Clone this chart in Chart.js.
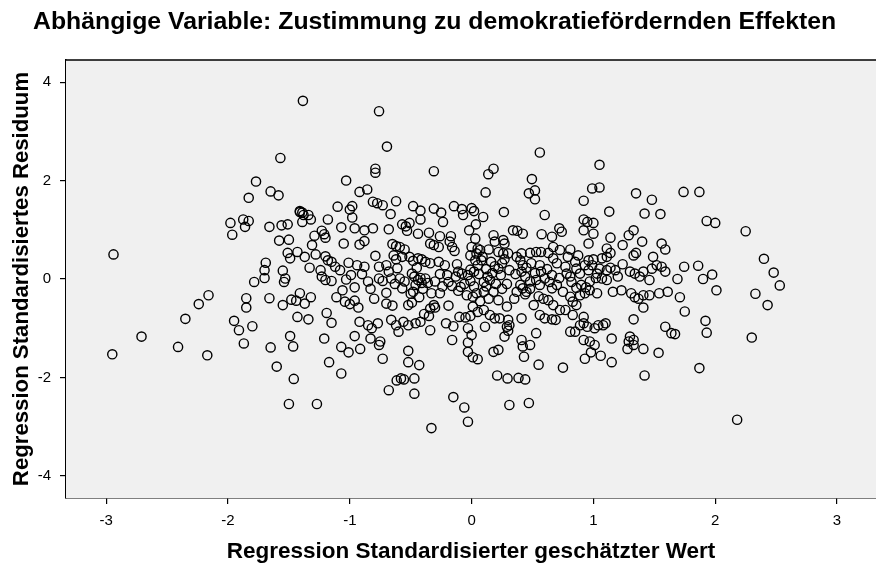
<!DOCTYPE html>
<html>
<head>
<meta charset="utf-8">
<script src="https://cdn.jsdelivr.net/npm/chart.js@4.4.1/dist/chart.umd.min.js"></script>
<style>
  html, body { margin: 0; padding: 0; background: #fff; }
</style>
</head>
<body>
<canvas id="residual-chart" width="876" height="569"></canvas>
<script>
// Abhängige Variable: Zustimmung zu demokratiefördernden Effekten
const chartTitle = 'Abhängige Variable: Zustimmung zu demokratiefördernden Effekten';
const xTitle = 'Regression Standardisierter geschätzter Wert';
const yTitle = 'Regression Standardisiertes Residuum';

const xTickValues = [-3, -2, -1, 0, 1, 2, 3];
const yTickValues = [-4, -2, 0, 2, 4];

// standardisierte geschätzte Werte (x)
const predictedValues = [
  // links, locker
  -2.95,-2.94,-2.71,-2.41,-2.35,-2.24,-2.17,-2.16,-1.98,-1.965,
  -1.875,-1.83,-1.86,-1.66,-1.785,-1.85,-1.85,-1.95,-1.91,-1.80,
  -1.87,-1.69,-1.70,-1.70,-1.66,-1.65,-1.77,-1.83,-1.65,-1.585,
  // oben links
  -1.385,-0.76,-0.695,-1.57,-0.79,-0.79,-0.31,-1.03,-0.92,-0.857,
  -1.41,-1.39,-1.10,-0.98,-1.0,-0.81,-0.775,-0.73,-0.62,-0.665,
  -0.48,-0.42,-0.31,-0.25,-0.145,-0.08,0.0,-1.34,
  // oben rechts
  0.56,1.05,0.18,0.137,0.495,0.115,0.47,0.52,0.52,0.99,
  1.05,0.92,1.35,1.48,1.74,1.87,0.02,0.095,0.265,0.6,
  1.13,1.42,1.55,
  // rechts
  1.93,2.0,2.25,2.40,2.48,2.53,2.33,2.43,2.30,1.745,
  1.86,1.69,1.90,1.975,2.01,1.71,1.75,1.92,1.93,1.67,
  1.87,2.18,
  // unten rechts
  -0.03,0.01,0.05,0.18,0.22,0.42,0.48,0.43,0.55,0.75,
  0.21,0.295,0.385,0.44,0.31,0.47,-0.03,0.93,0.98,1.01,
  1.06,1.15,1.28,1.33,1.41,1.535,1.42,
  // unten links
  -1.465,-1.60,-1.46,-1.50,-1.27,-1.17,-1.07,-1.01,-0.915,-1.07,
  -0.76,-0.73,-0.52,-0.52,-0.43,-0.615,-0.58,-0.556,-0.47,-0.68,
  -0.47,-0.15,-0.06,-0.33,
  // Mitte links
  -1.41,-1.38,-1.32,-1.18,-0.98,-0.42,-0.235,-0.07,-1.56,-1.51,
  -1.39,-1.23,-1.21,-1.20,-1.07,-0.96,-0.88,-0.81,-0.68,-0.57,
  -0.54,-0.51,-0.53,-0.44,-0.35,-0.26,-0.17,-0.02,-1.58,-1.50,
  -1.29,-1.31,-1.05,-0.92,-0.88,-0.65,-0.62,-0.59,-0.55,-0.34,
  -0.31,-0.27,-0.18,-0.16,-0.14,0.0,-1.51,-1.49,-1.43,-1.37,
  -1.28,-1.20,-1.18,-1.15,-1.01,-0.94,-0.88,-0.79,-0.76,-0.70,
  -0.64,-0.62,-0.57,-0.51,-0.48,-0.44,-0.41,-0.38,-0.34,-0.27,
  -0.22,-0.11,-0.08,-0.01,-1.55,-1.53,-1.54,-1.33,-1.24,-1.23,
  -1.20,-1.15,-1.08,-1.03,-0.99,-0.96,-0.83,-0.76,-0.73,-0.68,
  -0.66,-0.63,-0.59,-0.57,-0.49,-0.47,-0.44,-0.42,-0.41,-0.38,
  -0.36,-0.20,-0.19,-0.16,-0.11,-0.09,-0.03,-0.01,-1.55,-1.48,
  -1.44,-1.41,-1.37,-1.32,-1.11,-1.06,-1.04,-1.00,-0.96,-0.93,
  -0.70,-0.70,-0.65,-0.52,-0.49,-0.48,-0.43,-0.34,-0.31,-0.30,
  -0.33,-0.26,-0.19,-0.04,-1.43,-1.34,-1.19,-1.15,-0.92,-0.85,
  -0.82,-0.77,-0.66,-0.62,-0.56,-0.52,-0.46,-0.42,-0.39,-0.35,
  -0.34,-0.21,-0.15,-0.10,-0.05,-0.01,-0.03,0.00,-1.49,-1.21,
  -0.96,-0.83,-0.75,-0.60,-0.16,-0.03,
  // Mitte rechts
  0.035,0.92,0.95,1.00,0.92,1.0,0.18,0.19,0.26,0.27,
  0.34,0.375,0.42,0.575,0.66,0.72,0.74,0.96,1.14,1.11,
  1.14,1.24,1.29,1.33,1.40,1.56,1.59,0.03,0.07,0.04,
  0.22,0.26,0.30,0.37,0.41,0.48,0.53,0.57,0.63,0.67,
  0.725,0.81,0.79,0.875,0.96,1.0,1.07,1.11,1.33,1.35,
  1.49,1.52,-0.01,0.03,0.05,0.08,0.16,0.19,0.22,0.25,
  0.31,0.40,0.42,0.45,0.41,0.49,0.56,0.57,0.60,0.64,
  0.67,0.70,0.77,0.78,0.81,0.82,0.86,0.89,0.93,0.96,
  1.03,1.05,1.11,1.14,1.18,1.07,1.11,1.30,1.34,1.38,
  1.41,1.46,1.48,1.56,1.59,0.10,0.15,0.29,0.40,0.42,
  0.45,0.53,0.56,0.66,0.70,0.75,0.90,0.94,0.97,0.93,
  0.89,1.16,1.23,1.31,1.34,1.37,1.41,1.46,1.54,1.61,
  0.01,0.04,0.10,0.14,0.18,0.22,0.29,0.37,0.44,0.51,
  0.59,0.63,0.67,0.725,0.77,0.81,0.83,0.86,1.03,1.41,
  0.01,0.05,0.10,0.15,0.19,0.23,0.30,0.31,0.41,0.56,
  0.60,0.66,0.69,0.83,0.92,1.33,0.11,0.29,0.30,0.27,
  0.53,0.81,0.85,0.89,0.92,0.95,1.01,1.04,1.08,1.10,
  0.92,0.97,1.15,0.41,1.30,1.33,1.29,1.59,1.64,
  // dichter Kern (überlappende Kreise)
  0.02,0.06,0.12,0.09,0.13,0.17,0.24,0.27,0.02,0.07,
  0.12,0.20,0.25,0.05,0.14,0.36,0.44,0.48,0.52,0.62,
  0.66,0.35,0.48,0.55,0.85,0.99,1.02,0.97,0.86,1.20,
  1.24,0.72,-0.55,-0.46,-0.50,-0.40,-0.30,-0.26,-0.13,-0.06,
  -0.24,-0.61,-0.45,-0.12,-0.90,-0.85,-1.12,-0.80
];

// standardisierte Residuen (y)
const residualValues = [
  // links, locker
  -1.53,0.50,-1.17,-1.38,-0.81,-0.51,-1.55,-0.33,1.14,0.90,
  1.21,1.18,1.06,1.06,-0.06,-0.39,-0.58,-0.85,-1.04,-0.96,
  -1.31,0.33,0.18,0.02,-0.39,-1.39,1.98,1.65,1.78,1.70,
  // oben links
  3.62,3.41,2.69,2.46,2.24,2.16,2.19,2.0,1.77,1.82,
  1.38,1.35,1.47,1.48,1.41,1.57,1.54,1.5,1.58,1.32,
  1.48,1.39,1.43,1.35,1.48,1.42,1.44,1.30,
  // oben rechts
  2.57,2.32,2.24,2.13,2.03,1.76,1.74,1.80,1.62,1.84,
  1.86,1.59,1.74,1.61,1.77,1.77,1.38,1.26,1.36,1.3,
  1.37,1.33,1.32,
  // rechts
  1.18,1.14,0.97,0.41,0.13,-0.13,-0.30,-0.53,-1.19,0.25,
  0.27,0.0,0.0,0.09,-0.23,-0.37,-0.66,-0.85,-1.09,-1.12,
  -1.81,-2.86,
  // unten rechts
  -1.48,-1.59,-1.63,-1.48,-1.44,-1.37,-1.34,-1.58,-1.74,-1.80,
  -1.96,-2.02,-2.01,-2.04,-2.56,-2.52,-2.90,-1.62,-1.49,-1.34,
  -1.56,-1.69,-1.42,-1.34,-1.42,-1.50,-1.96,
  // unten links
  -1.37,-1.78,-2.03,-2.54,-2.54,-1.69,-1.38,-1.49,-1.42,-1.92,
  -1.34,-1.62,-1.46,-1.69,-1.75,-2.06,-2.02,-2.04,-2.02,-2.26,
  -2.33,-2.40,-2.61,-3.03,
  // Mitte links
  1.36,1.30,1.21,1.21,1.25,1.21,1.16,1.30,1.09,1.11,
  1.16,0.98,0.91,0.84,1.05,1.03,0.99,1.03,1.01,1.11,
  1.07,1.14,0.98,0.92,0.94,0.87,0.87,0.99,0.78,0.80,
  0.88,0.69,0.72,0.70,0.77,0.71,0.67,0.65,0.60,0.72,
  0.69,0.65,0.76,0.65,0.57,0.65,0.53,0.42,0.55,0.45,
  0.50,0.46,0.38,0.35,0.33,0.28,0.25,0.47,0.25,0.28,
  0.48,0.40,0.45,0.45,0.37,0.42,0.40,0.35,0.32,0.35,
  0.28,0.15,0.11,0.19,0.17,0.01,-0.06,0.23,0.18,0.05,
  -0.02,-0.04,0.18,-0.01,0.08,-0.17,-0.20,0.01,-0.04,0.15,
  0.01,-0.10,0.01,-0.19,0.11,0.05,-0.02,0.02,-0.08,0.01,
  -0.08,0.08,-0.06,-0.14,-0.24,-0.16,0.08,-0.04,-0.53,-0.42,
  -0.44,-0.29,-0.50,-0.37,-0.37,-0.23,-0.46,-0.51,-0.44,-0.58,
  -0.28,-0.50,-0.54,-0.53,-0.48,-0.26,-0.37,-0.60,-0.53,-0.58,
  -0.29,-0.29,-0.54,-0.33,-0.77,-0.82,-0.69,-0.89,-0.87,-0.94,
  -1.00,-0.90,-0.83,-0.94,-0.87,-0.94,-0.90,-0.87,-0.71,-0.75,
  -1.04,-0.90,-0.96,-0.77,-0.78,-0.75,-1.00,-1.14,-1.16,-1.21,
  -1.16,-1.21,-1.27,-1.07,-1.24,-1.29,
  // Mitte rechts
  1.11,1.21,1.16,1.14,0.99,0.92,0.89,0.76,0.79,0.72,
  0.99,0.98,0.92,0.91,0.86,1.03,0.96,0.72,0.84,0.62,
  0.53,0.69,0.89,0.99,0.76,0.72,0.60,0.82,0.59,0.52,
  0.55,0.52,0.52,0.45,0.52,0.53,0.55,0.55,0.53,0.65,
  0.59,0.60,0.45,0.48,0.38,0.40,0.42,0.45,0.48,0.53,
  0.45,0.28,0.48,0.38,0.28,0.38,0.35,0.26,0.21,0.32,
  0.18,0.38,0.28,0.23,0.15,0.32,0.28,0.15,0.01,-0.06,
  0.42,0.32,0.25,0.11,0.05,-0.06,0.21,0.11,0.28,0.18,
  0.11,0.21,0.18,0.23,0.18,0.01,-0.02,0.15,0.11,0.05,
  0.15,-0.02,0.21,0.25,0.15,-0.06,-0.02,-0.10,-0.12,-0.19,
  -0.26,-0.02,-0.12,-0.19,-0.12,-0.26,-0.12,-0.17,-0.23,-0.29,
  -0.33,-0.26,-0.23,-0.29,-0.37,-0.40,-0.33,-0.33,-0.29,-0.26,
  -0.36,-0.29,-0.26,-0.40,-0.26,-0.43,-0.56,-0.26,-0.31,-0.53,
  -0.40,-0.43,-0.53,-0.63,-0.63,-0.36,-0.46,-0.53,-0.29,-0.58,
  -0.56,-0.67,-0.63,-0.73,-0.80,-0.80,-0.83,-0.94,-0.80,-0.73,
  -0.80,-0.82,-0.83,-0.73,-0.77,-0.82,-0.97,-0.97,-1.05,-1.17,
  -1.10,-1.07,-1.07,-0.94,-0.90,-0.97,-1.00,-0.94,-0.94,-0.90,
  -1.24,-1.27,-1.21,-1.24,-1.17,-1.24,-1.27,-0.97,-1.10,
  // dichter Kern (überlappende Kreise)
  0.15,0.10,0.20,0.45,0.05,0.12,0.08,0.40,-0.15,-0.45,
  -0.15,-0.10,-0.20,0.62,0.60,0.10,0.05,-0.05,0.12,0.20,
  0.08,-0.40,-0.20,-0.35,0.35,0.28,0.02,-0.05,-0.18,0.05,
  0.30,0.02,-0.05,-0.12,-0.30,-0.20,-0.05,0.10,0.05,-0.10,
  -0.15,0.22,0.23,0.30,0.10,-0.05,0.25,-0.40
];

Chart.defaults.font.family = '"Liberation Sans", Arial, sans-serif';
Chart.defaults.color = '#000';

const plotFrame = {
  id: 'plotFrame',
  beforeDatasetsDraw(chart) {
    const { ctx, chartArea: a } = chart;
    ctx.save();
    ctx.fillStyle = '#f0f0f0';
    ctx.fillRect(a.left, a.top, chart.width - a.left, a.bottom - a.top);
    ctx.restore();
  },
  afterDraw(chart) {
    const { ctx, chartArea: a } = chart;
    ctx.save();
    ctx.strokeStyle = '#000';
    ctx.lineWidth = 1.5;
    ctx.beginPath();
    ctx.moveTo(a.left, a.top);
    ctx.lineTo(chart.width + 2, a.top);
    ctx.stroke();
    // Überschrift
    ctx.fillStyle = '#000';
    ctx.font = 'bold 24.8px "Liberation Sans", Arial, sans-serif';
    ctx.textBaseline = 'alphabetic';
    ctx.fillText(chartTitle, 33, 29);
    ctx.restore();
  }
};

const points = predictedValues.map((x, i) => ({ x: x, y: residualValues[i] }));

let residualObj = document.getElementById('residual-chart');
let residualChart = new Chart(residualObj, {
  type: 'scatter',
  data: {
    datasets: [{
      label: 'Residuen',
      data: points,
      pointStyle: 'circle',
      pointRadius: 4.6,
      pointHoverRadius: 4.6,
      borderWidth: 1.4,
      borderColor: '#000',
      backgroundColor: 'rgba(0,0,0,0)'
    }]
  },
  options: {
    responsive: false,
    animation: false,
    layout: { autoPadding: false, padding: { top: 60, left: 0, right: 0, bottom: 0 } },
    plugins: { legend: { display: false }, tooltip: { enabled: false } },
    scales: {
      x: {
        type: 'linear',
        min: -3.33,
        max: 3.32,
        afterBuildTicks: s => { s.ticks = xTickValues.map(v => ({ value: v })); },
        afterFit: s => { s.height = 71; s.paddingLeft = 0; s.paddingRight = 0; },
        grid: { drawOnChartArea: false, drawTicks: true, tickLength: 6, color: '#000', lineWidth: 1.2 },
        border: { color: '#000', width: 1.5 },
        ticks: { font: { size: 15 }, color: '#000', padding: 8, maxRotation: 0 },
        title: { display: true, text: xTitle, font: { size: 22.5, weight: 'bold' }, color: '#000', padding: { top: 0, bottom: 4 } }
      },
      y: {
        type: 'linear',
        min: -4.45,
        max: 4.45,
        afterBuildTicks: s => { s.ticks = yTickValues.map(v => ({ value: v })); },
        afterFit: s => { s.width = 66; s.paddingTop = 0; s.paddingBottom = 0; },
        grid: { drawOnChartArea: false, drawTicks: true, tickLength: 6, color: '#000', lineWidth: 1.2 },
        border: { color: '#000', width: 1.5 },
        ticks: { font: { size: 15 }, color: '#000', padding: 9 },
        title: { display: true, text: yTitle, font: { size: 22.2, weight: 'bold' }, color: '#000', padding: { top: 9, bottom: 0 } }
      }
    }
  },
  plugins: [plotFrame]
});
</script>
</body>
</html>
